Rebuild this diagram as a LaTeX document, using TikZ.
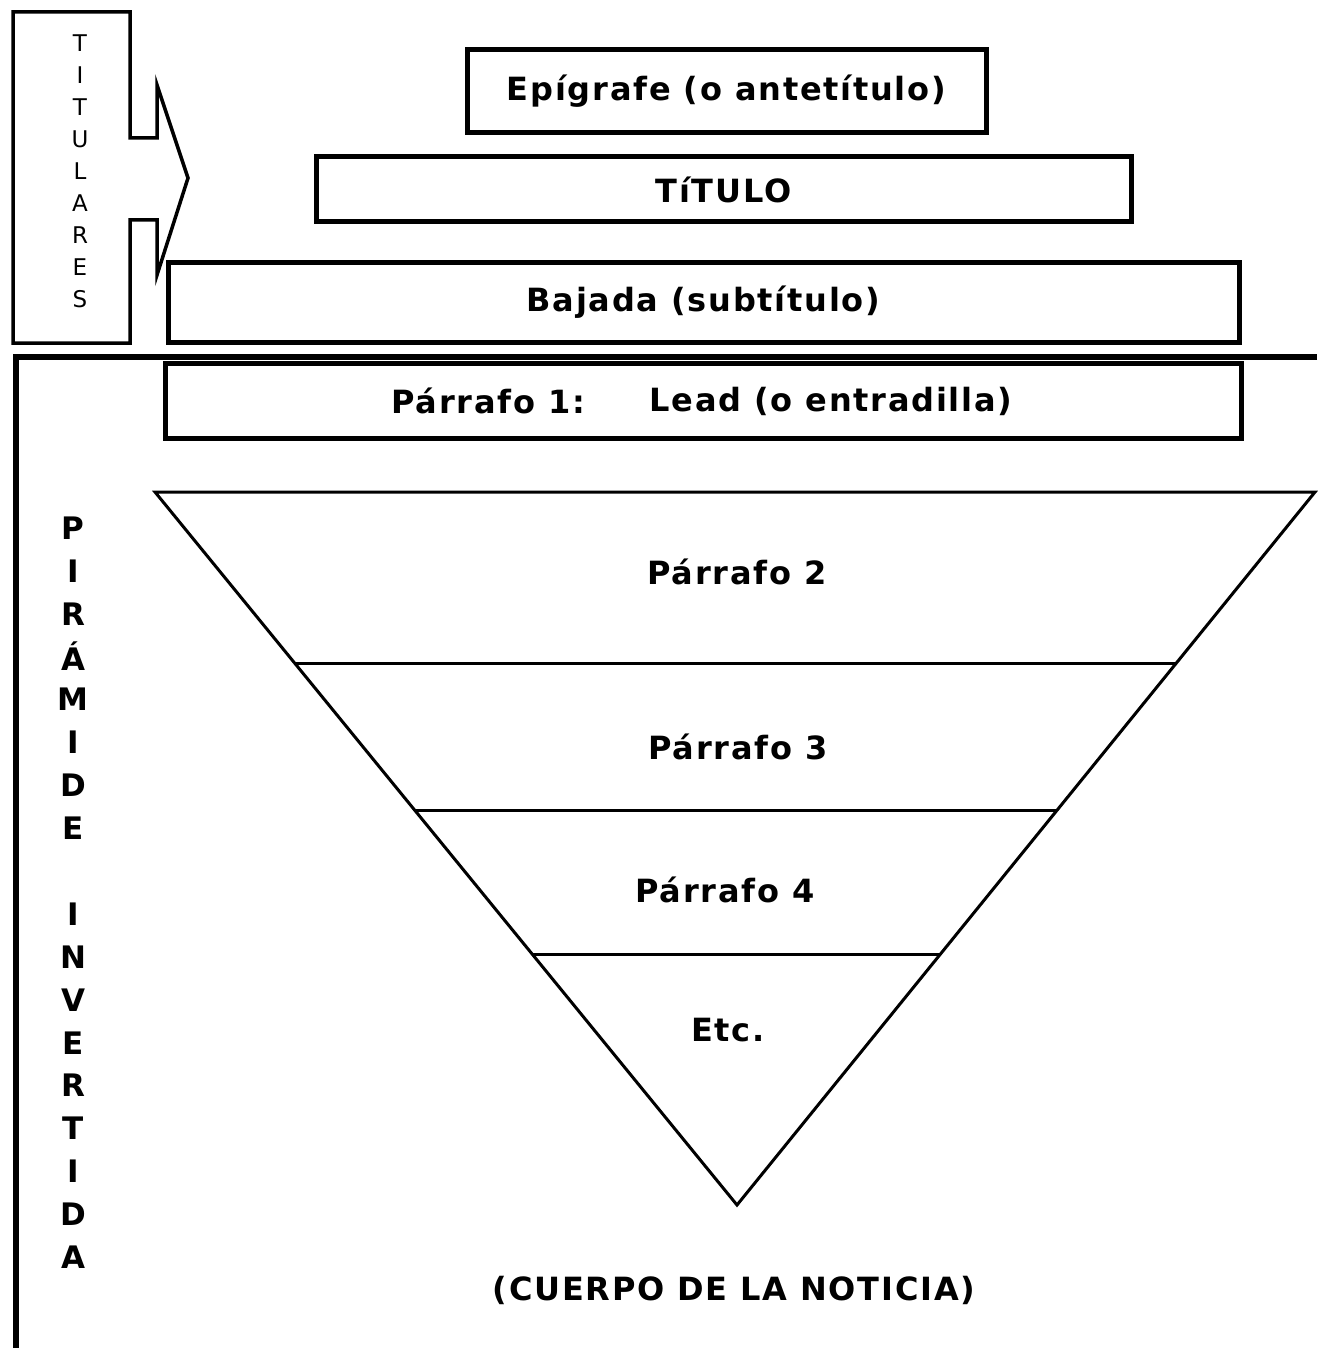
\documentclass[tikz,border=0pt]{standalone}
\usepackage{fontspec}
\setmainfont{DejaVu Sans}
\newfontfamily\ancha[LetterSpace=5.5]{DejaVu Sans}
\usetikzlibrary{calc}
\begin{document}
\begin{tikzpicture}[x=1pt,y=-1pt,
  caja/.style={draw, line width=5pt, inner sep=0pt},
  texto/.style={font=\ancha\fontsize{32}{38}\selectfont\bfseries},
  letra/.style={font=\fontsize{23}{27}\selectfont, inner sep=0pt},
  letrap/.style={font=\fontsize{31}{36}\selectfont\bfseries, inner sep=0pt}]
\useasboundingbox (0,0) rectangle (1317,1348);

\draw[line width=3.5pt] (13,12) -- (130,12) -- (130,138) -- (157,138) -- (157,85)
  -- (188,178) -- (157,275) -- (157,220) -- (130,220) -- (130,343) -- (13,343) -- cycle;
\foreach \l [count=\i] in {T,I,T,U,L,A,R,E,S}
  \node[letra] (tit\i) at (80,11+32*\i) {\l};

\node[caja, minimum width=519pt, minimum height=83pt] (epigrafe) at (726.5,91.5) {};
\node[texto] at (epigrafe) {Epígrafe (o antetítulo)};
\node[caja, minimum width=815pt, minimum height=65pt] (titulo) at (723.5,189.5) {};
\node[texto] at (titulo) {TíTULO};
\node[caja, minimum width=1071pt, minimum height=80pt] (bajada) at (703.5,302) {};
\node[texto] at (bajada) {Bajada (subtítulo)};

\draw[line width=6pt] (1317,357) -- (16,357) -- (16,1348);

\node[caja, minimum width=1076pt, minimum height=75pt] (lead) at (703,401) {};
\node[texto, anchor=west] (p1) at (388,401) {Párrafo 1:};
\node[texto, anchor=west] (ld) at (646,401) {Lead (o entradilla)};

\coordinate (a) at (155,492);
\coordinate (b) at (1315,492);
\coordinate (c) at (737,1205);
\draw[line width=3pt, line join=miter] (a) -- (b) -- (c) -- cycle;
\foreach \t in {0.24,0.446,0.649}
  \draw[line width=3pt] ($(a)!\t!(c)$) -- ($(b)!\t!(c)$);

\node[texto] (p2) at (737,572) {Párrafo 2};
\node[texto] (p3) at (738,747) {Párrafo 3};
\node[texto] (p4) at (725,890) {Párrafo 4};
\node[texto] (etc) at (728,1030) {Etc.};
\node[texto] (cuerpo) at (734,1290) {(CUERPO DE LA NOTICIA)};

\foreach \l [count=\i] in {P,I,R,Á,M,I,D,E,{},I,N,V,E,R,T,I,D,A}
  \node[letrap] (pir\i) at (73,485+42.9*\i) {\l};
\end{tikzpicture}
\end{document}
